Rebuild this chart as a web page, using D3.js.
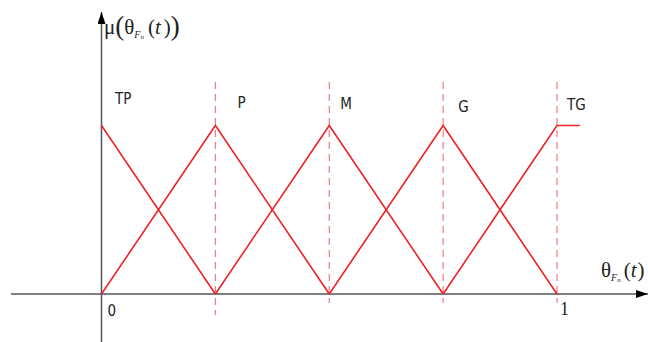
<!DOCTYPE html>
<html>
<head>
<meta charset="utf-8">
<script src="https://cdn.jsdelivr.net/npm/d3@7"></script>
<style>
  body { margin: 0; background: #fff; }
  .lbl { font-family: "Liberation Sans Narrow", "DejaVu Sans Condensed", sans-serif; font-size: 15px; fill: #222; }
  .serif { font-family: "Liberation Serif", "DejaVu Serif", serif; fill: #222; }
</style>
</head>
<body>
<div id="chart"></div>
<script>
// fuzzy sets
var categories = ["TP", "P", "M", "G", "TG"];
var peaks = [0, 0.25, 0.5, 0.75, 1];
var setPoints = [
  [[0, 1], [0.25, 0]],
  [[0, 0], [0.25, 1], [0.5, 0]],
  [[0.25, 0], [0.5, 1], [0.75, 0]],
  [[0.5, 0], [0.75, 1], [1, 0]],
  [[0.75, 0], [1, 1], [1.05, 1]]
];
var dashedAt = [0.25, 0.5, 0.75, 1];
var tickLabels = ["0", "1"];

var svgWidth = 648;
var svgHeight = 342;

var svg = d3.select("#chart")
  .append("svg")
  .attr("width", svgWidth)
  .attr("height", svgHeight);

var x = d3.scaleLinear().domain([0, 1]).range([101.5, 557]);
var y = d3.scaleLinear().domain([0, 1]).range([294, 125.5]);

var axisColor = "#555";
var red = "#ec2227";

// arrow heads
var defs = svg.append("defs");
defs.append("marker")
  .attr("id", "arrow")
  .attr("viewBox", "0 0 12 8")
  .attr("refX", 12).attr("refY", 4)
  .attr("markerWidth", 12).attr("markerHeight", 8)
  .attr("markerUnits", "userSpaceOnUse")
  .attr("orient", "auto")
  .append("path")
  .attr("d", "M0,0 L12,4 L0,8 Z")
  .attr("fill", "#000");

// dashed guides
svg.selectAll(".guide")
  .data(dashedAt)
  .enter()
  .append("line")
  .attr("class", "guide")
  .attr("x1", d => x(d)).attr("x2", d => x(d))
  .attr("y1", 82)
  .attr("y2", (d, i) => i == 0 ? 315 : 303)
  .attr("stroke", "#f07a7e")
  .attr("stroke-width", 1.2)
  .attr("stroke-dasharray", "7,5");

// axes
svg.append("line")
  .attr("x1", 11).attr("x2", 648)
  .attr("y1", y(0)).attr("y2", y(0))
  .attr("stroke", axisColor).attr("stroke-width", 1.5)
  .attr("marker-end", "url(#arrow)");

svg.append("line")
  .attr("x1", x(0)).attr("x2", x(0))
  .attr("y1", 342).attr("y2", 12)
  .attr("stroke", axisColor).attr("stroke-width", 1.5)
  .attr("marker-end", "url(#arrow)");

// membership functions
var line = d3.line()
  .x(d => x(d[0]))
  .y(d => y(d[1]));

svg.selectAll(".mf")
  .data(setPoints)
  .enter()
  .append("path")
  .attr("class", "mf")
  .attr("d", line)
  .attr("fill", "none")
  .attr("stroke", red)
  .attr("stroke-width", 1.6);

// set names
var labelDx = [13.5, 22, 11, 15, 10];
var labelY = [104, 108, 109, 112, 110];
svg.selectAll(".lbl")
  .data(categories)
  .enter()
  .append("text")
  .attr("class", "lbl")
  .attr("x", (d, i) => x(peaks[i]) + labelDx[i])
  .attr("y", (d, i) => labelY[i])
  .text(d => d);

// tick labels
svg.append("text")
  .attr("class", "lbl")
  .attr("x", x(0) + 6).attr("y", 316)
  .text(tickLabels[0]);
svg.append("text")
  .attr("class", "serif")
  .attr("x", x(1) + 3).attr("y", 315)
  .style("font-size", "18px")
  .text(tickLabels[1]);

// y axis title: mu(theta_Fn(t))
var yt = svg.append("text")
  .attr("class", "serif")
  .attr("x", 104).attr("y", 34)
  .style("font-size", "21px");
yt.append("tspan").text("μ");
yt.append("tspan").style("font-size", "27px").attr("dy", 1).text("(");
yt.append("tspan").attr("dy", -1).text("θ");
yt.append("tspan").style("font-size", "10px").style("font-style", "italic").attr("dy", 4).text("F");
yt.append("tspan").style("font-size", "7px").style("font-style", "italic").attr("dy", 1).text("n");
yt.append("tspan").attr("dy", -5).attr("dx", 4).text("(");
yt.append("tspan").style("font-style", "italic").text("t");
yt.append("tspan").attr("dx", 3).text(")");
yt.append("tspan").style("font-size", "27px").attr("dy", 1).text(")");

// x axis title: theta_Fn(t)
var xt = svg.append("text")
  .attr("class", "serif")
  .attr("x", 601).attr("y", 277)
  .style("font-size", "21px");
xt.append("tspan").text("θ");
xt.append("tspan").style("font-size", "10px").style("font-style", "italic").attr("dy", 4).text("F");
xt.append("tspan").style("font-size", "7px").style("font-style", "italic").attr("dy", 1).text("n");
xt.append("tspan").attr("dy", -5).attr("dx", 3).text("(");
xt.append("tspan").style("font-style", "italic").text("t");
xt.append("tspan").attr("dx", 1).text(")");
</script>
</body>
</html>
